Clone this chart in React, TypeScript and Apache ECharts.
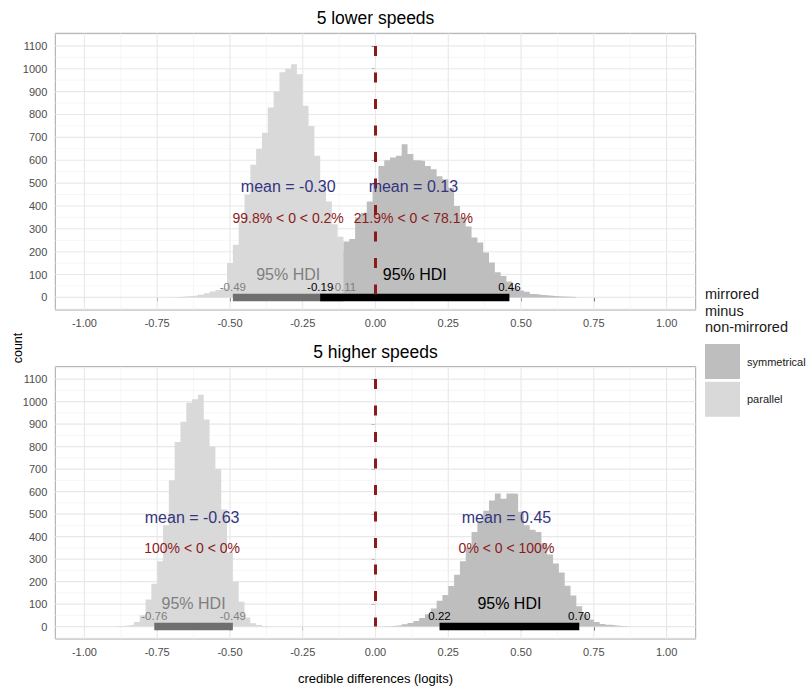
import React, { useEffect, useRef } from "react";
import * as echarts from "echarts";

// ---------- data ----------
const BIN = 0.02;

// 5 lower speeds — parallel
const lowerParBins = [-0.68, -0.66, -0.64, -0.62, -0.6, -0.58, -0.56, -0.54, -0.52, -0.5, -0.48, -0.46, -0.44, -0.42, -0.4, -0.38, -0.36, -0.34, -0.32, -0.3, -0.28, -0.26, -0.24, -0.22, -0.2, -0.18, -0.16, -0.14, -0.12, -0.1, -0.08, -0.06, -0.04, -0.02, 0.0];
const lowerParCounts = [2, 4, 6, 8, 12, 18, 26, 32, 40, 150, 230, 330, 450, 580, 650, 720, 830, 900, 985, 1000, 1020, 976, 838, 750, 619, 495, 420, 320, 265, 200, 120, 60, 30, 15, 8];

// 5 lower speeds — symmetrical
const lowerSymBins = [-0.14, -0.12, -0.1, -0.08, -0.06, -0.04, -0.02, 0.0, 0.02, 0.04, 0.06, 0.08, 0.1, 0.12, 0.14, 0.16, 0.18, 0.2, 0.22, 0.24, 0.26, 0.28, 0.3, 0.32, 0.34, 0.36, 0.38, 0.4, 0.42, 0.44, 0.46, 0.48, 0.5, 0.52, 0.54, 0.56, 0.58, 0.6, 0.62, 0.64, 0.66, 0.68];
const lowerSymCounts = [5, 10, 245, 255, 350, 370, 420, 500, 575, 600, 612, 619, 670, 627, 600, 597, 575, 560, 530, 517, 480, 400, 350, 310, 262, 240, 196, 153, 110, 94, 70, 40, 30, 25, 15, 12, 9, 7, 5, 4, 3, 2];

// 5 higher speeds — parallel
const higherParBins = [-0.88, -0.86, -0.84, -0.82, -0.8, -0.78, -0.76, -0.74, -0.72, -0.7, -0.68, -0.66, -0.64, -0.62, -0.6, -0.58, -0.56, -0.54, -0.52, -0.5, -0.48, -0.46, -0.44, -0.42, -0.4, -0.38];
const higherParCounts = [3, 5, 8, 20, 50, 120, 190, 290, 450, 650, 820, 910, 995, 1010, 1030, 920, 800, 700, 520, 330, 200, 110, 40, 15, 7, 3];

// 5 higher speeds — symmetrical
const higherSymBins = [0.04, 0.06, 0.08, 0.1, 0.12, 0.14, 0.16, 0.18, 0.2, 0.22, 0.24, 0.26, 0.28, 0.3, 0.32, 0.34, 0.36, 0.38, 0.4, 0.42, 0.44, 0.46, 0.48, 0.5, 0.52, 0.54, 0.56, 0.58, 0.6, 0.62, 0.64, 0.66, 0.68, 0.7, 0.72, 0.74, 0.76, 0.78, 0.8, 0.82, 0.84, 0.86];
const higherSymCounts = [2, 4, 6, 10, 16, 25, 38, 55, 80, 115, 140, 180, 230, 290, 350, 420, 470, 515, 560, 592, 568, 592, 590, 510, 450, 430, 420, 370, 320, 280, 240, 182, 138, 90, 55, 32, 20, 12, 8, 5, 3, 2];

// annotations: [parallel, symmetrical]
const panelTitles = ["5 lower speeds", "5 higher speeds"];
const groupNames = ["parallel", "symmetrical"];
const lowerMeans = [-0.3, 0.13];
const lowerProbs = ["99.8% < 0 < 0.2%", "21.9% < 0 < 78.1%"];
const lowerHdiLow = [-0.49, -0.19];
const lowerHdiHigh = [-0.11, 0.46];
const higherMeans = [-0.63, 0.45];
const higherProbs = ["100% < 0 < 0%", "0% < 0 < 100%"];
const higherHdiLow = [-0.76, 0.22];
const higherHdiHigh = [-0.49, 0.7];
const zeroLineTop = 1100;

const xTicks = [-1, -0.75, -0.5, -0.25, 0, 0.25, 0.5, 0.75, 1];
const xMinor = [-0.875, -0.625, -0.375, -0.125, 0.125, 0.375, 0.625, 0.875];
const yTicks = [0, 100, 200, 300, 400, 500, 600, 700, 800, 900, 1000, 1100];
const yMinor = [-50, 50, 150, 250, 350, 450, 550, 650, 750, 850, 950, 1050, 1150];

// ---------- styling / layout ----------
const X_MIN = -1.1, X_MAX = 1.1, Y_MIN = -55, Y_MAX = 1155;
const FONT = '"Liberation Sans", Arial, Helvetica, sans-serif';
const COL_PAR = "#d9d9d9";
const COL_SYM = "#bebebe";
const COL_PAR_BAR = "#6f6f6f";
const COL_PAR_TXT = "#7f7f7f";
const COL_MEAN = "#35357f";
const COL_PROB = "#8b1a1a";
const Y_MEAN = 487, Y_PROB = 349, Y_HDI = 102, Y_END = 47;

const GRID_LEFT = 55.3, GRID_W = 640.4, GRID_H = 276.7;
const GRID_TOPS = [33.3, 366.7];

export default function App() {
  const ref = useRef<HTMLDivElement>(null);
  useEffect(() => {
    document.body.style.margin = "0";
    if (!ref.current) return;
    const chart = echarts.init(ref.current, undefined, { renderer: "svg" });

    const panels = [
      { par: [lowerParBins, lowerParCounts], sym: [lowerSymBins, lowerSymCounts], means: lowerMeans, probs: lowerProbs, lo: lowerHdiLow, hi: lowerHdiHigh },
      { par: [higherParBins, higherParCounts], sym: [higherSymBins, higherSymCounts], means: higherMeans, probs: higherProbs, lo: higherHdiLow, hi: higherHdiHigh },
    ];

    const grids: any[] = [];
    const xAxes: any[] = [];
    const yAxes: any[] = [];
    const series: any[] = [];

    const gridLineSeries = (gi: number, vals: number[], vertical: boolean, color: string, width: number) => ({
      type: "custom",
      xAxisIndex: gi,
      yAxisIndex: gi,
      z: 1,
      silent: true,
      data: vals.map((v) => (vertical ? [v, 0] : [0, v])),
      encode: { x: 0, y: 1 },
      renderItem: (params: any, api: any) => {
        const v = vertical ? api.value(0) : api.value(1);
        const p0 = vertical ? api.coord([v, Y_MIN]) : api.coord([X_MIN, v]);
        const p1 = vertical ? api.coord([v, Y_MAX]) : api.coord([X_MAX, v]);
        return { type: "line", shape: { x1: p0[0], y1: p0[1], x2: p1[0], y2: p1[1] }, style: { stroke: color, lineWidth: width } };
      },
    });

    // histogram drawn as a stepped filled area: each bin's left edge carries its count
    const histSeries = (gi: number, name: string, bins: number[], counts: number[], color: string, z: number) => {
      const pts: number[][] = bins.map((b, i) => [b - BIN / 2, counts[i]]);
      pts.push([bins[bins.length - 1] + BIN / 2, 0]);
      return {
        type: "line",
        name,
        xAxisIndex: gi,
        yAxisIndex: gi,
        z,
        silent: true,
        step: "end",
        symbol: "none",
        showSymbol: false,
        color,
        itemStyle: { color },
        lineStyle: { width: 0, color },
        areaStyle: { color, opacity: 1 },
        data: pts,
      };
    };

    panels.forEach((p, gi) => {
      grids.push({
        left: GRID_LEFT,
        top: GRID_TOPS[gi],
        width: GRID_W,
        height: GRID_H,
        show: true,
        backgroundColor: "#ffffff",
        borderColor: "#a6a6a6",
        borderWidth: 1,
        containLabel: false,
      });
      xAxes.push({
        type: "value",
        gridIndex: gi,
        min: X_MIN,
        max: X_MAX,
        axisLine: { show: false },
        axisTick: { show: true, customValues: xTicks, length: 4, lineStyle: { color: "#333333", width: 1 } },
        axisLabel: { customValues: xTicks, formatter: (v: number) => v.toFixed(2), fontSize: 11, color: "#4d4d4d", margin: 7, fontFamily: FONT },
        splitLine: { show: false },
        name: gi === 1 ? "credible differences (logits)" : "",
        nameLocation: "middle",
        nameGap: 33,
        nameTextStyle: { fontSize: 13, color: "#000000", fontFamily: FONT },
      });
      yAxes.push({
        type: "value",
        gridIndex: gi,
        min: Y_MIN,
        max: Y_MAX,
        axisLine: { show: false },
        axisTick: { show: true, customValues: yTicks, length: 4, lineStyle: { color: "#333333", width: 1 } },
        axisLabel: { customValues: yTicks, formatter: (v: number) => String(Math.round(v)), fontSize: 11, color: "#4d4d4d", margin: 8, fontFamily: FONT },
        splitLine: { show: false },
      });

      series.push(gridLineSeries(gi, xMinor, true, "#f2f2f2", 0.7));
      series.push(gridLineSeries(gi, yMinor, false, "#f2f2f2", 0.7));
      series.push(gridLineSeries(gi, xTicks, true, "#e8e8e8", 1.1));
      series.push(gridLineSeries(gi, yTicks, false, "#e8e8e8", 1.1));

      series.push(histSeries(gi, "parallel", p.par[0], p.par[1], COL_PAR, 2));
      series.push(histSeries(gi, "symmetrical", p.sym[0], p.sym[1], COL_SYM, 3));

      // HDI bars
      [0, 1].forEach((g) => {
        series.push({
          type: "line",
          name: groupNames[g] + " HDI",
          xAxisIndex: gi,
          yAxisIndex: gi,
          z: 4 + g,
          silent: true,
          symbol: "none",
          data: [[p.lo[g], 0], [p.hi[g], 0]],
          lineStyle: { color: g === 0 ? COL_PAR_BAR : "#000000", width: 7.5, cap: "butt" },
        });
      });

      // zero reference line
      series.push({
        type: "line",
        xAxisIndex: gi,
        yAxisIndex: gi,
        z: 6,
        silent: true,
        symbol: "none",
        data: [[0, zeroLineTop], [0, 0]],
        lineStyle: { color: "#8b1a1a", width: 3, type: [10, 16.5] },
      });

      // annotations
      const texts: any[] = [];
      [0, 1].forEach((g) => {
        const mid = (p.lo[g] + p.hi[g]) / 2;
        const c = g === 0 ? COL_PAR_TXT : "#000000";
        texts.push({ x: p.means[g], y: Y_MEAN, text: "mean = " + p.means[g].toFixed(2), color: COL_MEAN, size: 16 });
        texts.push({ x: p.means[g], y: Y_PROB, text: p.probs[g], color: COL_PROB, size: 14 });
        texts.push({ x: mid, y: Y_HDI, text: "95% HDI", color: c, size: 16 });
        texts.push({ x: p.lo[g], y: Y_END, text: p.lo[g].toFixed(2), color: c, size: 11.5 });
        texts.push({ x: p.hi[g], y: Y_END, text: p.hi[g].toFixed(2), color: c, size: 11.5 });
      });
      series.push({
        type: "custom",
        xAxisIndex: gi,
        yAxisIndex: gi,
        z: 7,
        silent: true,
        data: texts.map((t) => [t.x, t.y]),
        encode: { x: 0, y: 1 },
        renderItem: (params: any, api: any) => {
          const t = texts[params.dataIndex];
          const pt = api.coord([api.value(0), api.value(1)]);
          return {
            type: "text",
            x: pt[0],
            y: pt[1],
            style: {
              text: t.text,
              fill: t.color,
              fontSize: t.size,
              fontFamily: FONT,
              align: "center",
              verticalAlign: "middle",
              textAlign: "center",
              textVerticalAlign: "middle",
            },
          };
        },
      });
    });

    chart.setOption({
      animation: false,
      backgroundColor: "#ffffff",
      textStyle: { fontFamily: FONT },
      grid: grids,
      xAxis: xAxes,
      yAxis: yAxes,
      legend: {
        orient: "vertical",
        left: 705,
        top: 344,
        padding: 0,
        itemWidth: 35,
        itemHeight: 35,
        itemGap: 2.7,
        icon: "rect",
        selectedMode: false,
        data: [
          { name: "symmetrical", icon: "rect", itemStyle: { color: COL_SYM } },
          { name: "parallel", icon: "rect", itemStyle: { color: COL_PAR } },
        ],
        textStyle: { fontSize: 11, color: "#1a1a1a", fontFamily: FONT, padding: [0, 0, 0, 2] },
      },
      graphic: [
        { type: "text", x: 375.5, y: 18.3, style: { text: panelTitles[0], fontSize: 17.5, fill: "#000", fontFamily: FONT, textAlign: "center", textVerticalAlign: "middle", align: "center", verticalAlign: "middle" } },
        { type: "text", x: 375.5, y: 351.5, style: { text: panelTitles[1], fontSize: 17.5, fill: "#000", fontFamily: FONT, textAlign: "center", textVerticalAlign: "middle", align: "center", verticalAlign: "middle" } },
        { type: "text", x: 18, y: 348, rotation: Math.PI / 2, style: { text: "count", fontSize: 12.5, fill: "#000", fontFamily: FONT, textAlign: "center", textVerticalAlign: "middle", align: "center", verticalAlign: "middle" } },
        { type: "text", x: 705, y: 310.5, style: { text: "mirrored\nminus\nnon-mirrored", fontSize: 14.5, lineHeight: 16.5, fill: "#1a1a1a", fontFamily: FONT, textAlign: "left", textVerticalAlign: "middle", align: "left", verticalAlign: "middle" } },
      ],
      series,
    });

    return () => chart.dispose();
  }, []);

  return <div ref={ref} style={{ width: 808, height: 686 }} />;
}
